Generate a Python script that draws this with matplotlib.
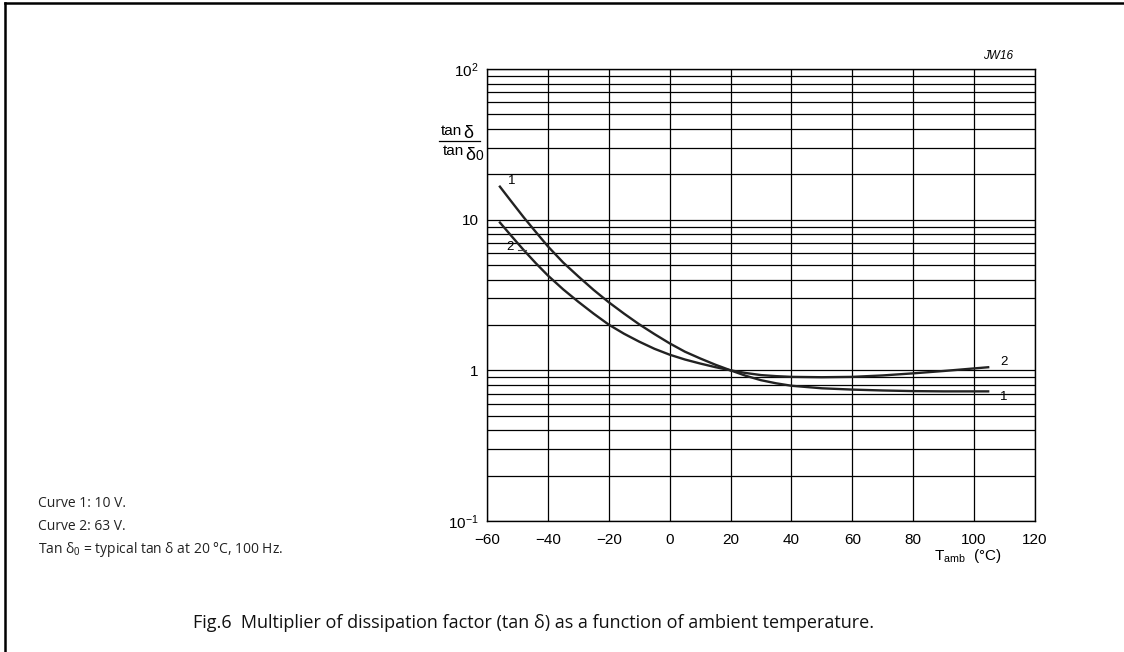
import matplotlib
matplotlib.use("Agg")
import matplotlib.pyplot as plt
from matplotlib.lines import Line2D
from matplotlib.ticker import FixedLocator, FixedFormatter, NullFormatter

plt.rcParams['font.family'] = ['Liberation Sans', 'DejaVu Sans']
plt.rcParams['mathtext.fontset'] = 'custom'
plt.rcParams['mathtext.rm'] = 'Liberation Sans'
plt.rcParams['mathtext.it'] = 'Liberation Sans:italic'

# ambient temperature (degC) and tan(delta)/tan(delta0)
temp_1 = [-56, -52, -48, -44, -40, -35, -30, -25, -20, -15, -10, -5, 0, 5, 10, 15, 20,
          25, 30, 35, 40, 50, 60, 70, 80, 90, 105]
curve_1 = [16.8, 13.2, 10.4, 8.3, 6.65, 5.2, 4.2, 3.42, 2.83, 2.38, 2.02, 1.74, 1.51,
           1.33, 1.2, 1.09, 1.0, 0.92, 0.86, 0.82, 0.79, 0.76, 0.745, 0.735, 0.728,
           0.725, 0.725]
temp_2 = [-56, -52, -48, -44, -40, -35, -30, -25, -20, -15, -10, -5, 0, 5, 10, 15, 20,
          25, 30, 35, 40, 50, 60, 70, 80, 90, 105]
curve_2 = [9.7, 7.8, 6.3, 5.15, 4.26, 3.45, 2.85, 2.38, 2.01, 1.75, 1.55, 1.39, 1.27,
           1.18, 1.11, 1.05, 1.0, 0.96, 0.93, 0.915, 0.905, 0.9, 0.905, 0.925, 0.955,
           0.99, 1.05]

x_ticks = [-60, -40, -20, 0, 20, 40, 60, 80, 100, 120]
x_ticklabels = ['\u221260', '\u221240', '\u221220', '0', '20', '40', '60', '80', '100', '120']
y_ticks = [0.1, 1, 10, 100]
y_ticklabels = ['10$^{\u22121}$', '1', '10', '10$^{2}$']

notes = ['Curve 1: 10 V.', 'Curve 2: 63 V.', 'Tan \u03b4$_0$ = typical tan \u03b4 at 20 \u00b0C, 100 Hz.']
caption = 'Fig.6  Multiplier of dissipation factor (tan \u03b4) as a function of ambient temperature.'

fig = plt.figure(figsize=(11.24, 6.52), dpi=100)
ax = fig.add_axes([487 / 1124, 1 - 521 / 652, 548 / 1124, 452 / 652])

ax.set_yscale('log')
ax.set_xlim(-60, 120)
ax.set_ylim(0.1, 100)

# grid: every 20 degC, and every log minor step
ax.xaxis.set_major_locator(FixedLocator(x_ticks))
ax.xaxis.set_major_formatter(FixedFormatter(x_ticklabels))
ax.yaxis.set_major_locator(FixedLocator(y_ticks))
ax.yaxis.set_major_formatter(FixedFormatter(y_ticklabels))
minor = [m * 10.0 ** e for e in (-1, 0, 1) for m in range(2, 10)]
ax.yaxis.set_minor_locator(FixedLocator(minor))
ax.yaxis.set_minor_formatter(NullFormatter())
ax.grid(True, which='both', color='black', lw=0.9)
ax.tick_params(axis='x', length=0, labelsize=11, pad=9)
ax.tick_params(axis='y', which='both', length=0, labelsize=11, pad=6)
for s in ax.spines.values():
    s.set_linewidth(1.0)

ax.plot(temp_1, curve_1, color='#222222', lw=1.7, solid_capstyle='butt')
ax.plot(temp_2, curve_2, color='#222222', lw=1.7, solid_capstyle='butt')

# curve numbers
ax.text(-53.2, 18.0, '1', fontsize=9.5, ha='left', va='center')
ax.text(-53.8, 6.6, '2', fontsize=9.5, ha='left', va='center')
ax.plot([-49.8, -47.2], [6.3, 6.3], color='#444444', lw=0.8)
ax.text(108.5, 1.13, '2', fontsize=9.5, ha='left', va='center')
ax.text(108.5, 0.67, '1', fontsize=9.5, ha='left', va='center')

ax.text(108, 112, 'JW16', fontsize=8.5, style='italic', ha='center', va='bottom')

# y label drawn as a fraction: tan d / tan d0
W, H = 1124, 652
fig.text(441 / W, 1 - 135 / H, 'tan', fontsize=11, ha='left', va='baseline')
fig.text(463 / W, 1 - 138 / H, '\u03b4', fontsize=13, ha='left', va='baseline')
fig.add_artist(Line2D([439 / W, 480 / W], [1 - 141 / H, 1 - 141 / H], color='black', lw=0.9))
fig.text(443 / W, 1 - 155 / H, 'tan', fontsize=11, ha='left', va='baseline')
fig.text(465 / W, 1 - 160 / H, '\u03b4', fontsize=13, ha='left', va='baseline')
fig.text(476 / W, 1 - 160 / H, '0', fontsize=10, ha='left', va='baseline')

fig.text(968 / W, 1 - 556 / H, 'T$_{\\rm amb}$  (\u00b0C)', fontsize=11,
         ha='center', va='center')

for i, t in enumerate(notes):
    fig.text(38 / W, 1 - (507 + i * 23) / H, t, fontsize=10, ha='left', va='baseline',
             family=['Open Sans', 'DejaVu Sans'], color='#222222')

fig.text(193 / W, 1 - 628 / H, caption, fontsize=13, ha='left', va='baseline',
         family=['Open Sans', 'DejaVu Sans'], color='#111111')

# page frame (left and top edges)
fig.add_artist(Line2D([5 / W, 5 / W], [0, 1 - 3 / H], color='black', lw=1.8))
fig.add_artist(Line2D([5 / W, 1], [1 - 3 / H, 1 - 3 / H], color='black', lw=1.8))

fig.savefig('out.png', dpi=100)
